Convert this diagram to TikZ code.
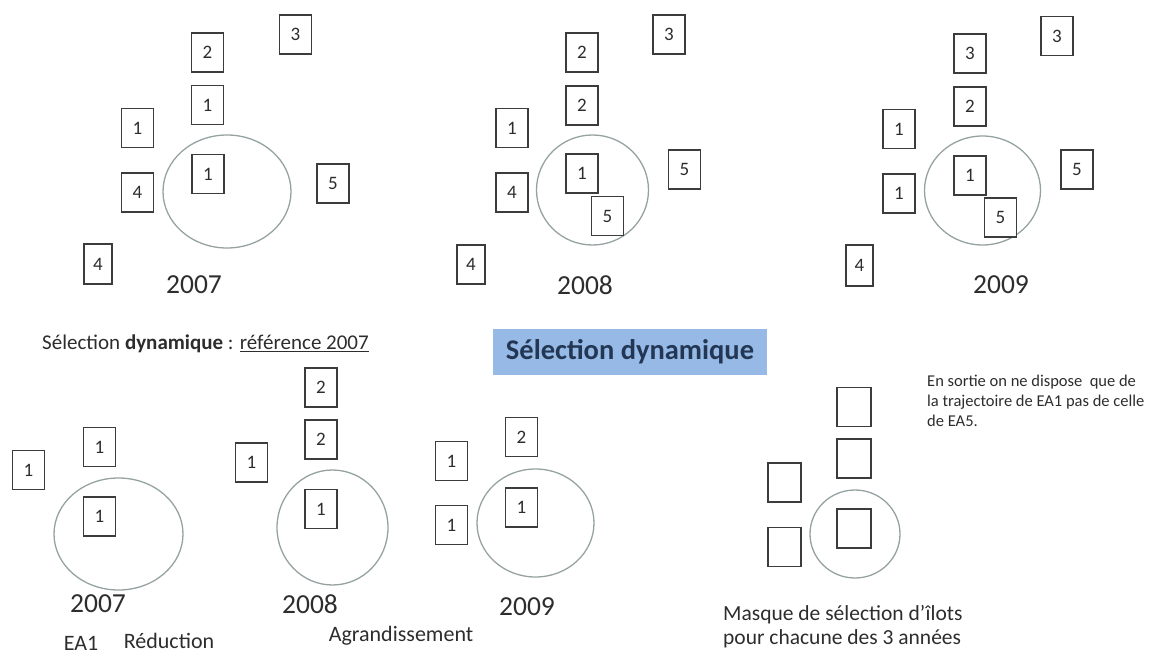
\documentclass[tikz,border=0pt]{standalone}
\usepackage{fontspec}
\setmainfont{Carlito}
\usetikzlibrary{shapes.geometric}
\definecolor{boxline}{RGB}{60,60,60}
\definecolor{ringline}{RGB}{150,162,162}
\definecolor{txt}{RGB}{45,45,45}
\definecolor{bluefill}{RGB}{150,186,229}
\definecolor{bluetxt}{RGB}{35,55,85}
\tikzset{
  isl/.style={draw=boxline, line width=1.1pt, fill=white, minimum width=32pt, minimum height=39pt, inner sep=0pt, font=\fontsize{19}{19}\selectfont, text=txt},
  ring/.style={ellipse, draw=ringline, line width=1.3pt, inner sep=0pt},
  year/.style={font=\fontsize{27.5}{27.5}\selectfont, text=txt, inner sep=0pt},
  lbl/.style={font=\fontsize{22}{22}\selectfont, text=txt, inner sep=0pt},
}
\begin{document}
\begin{tikzpicture}[x=1pt,y=-1pt]
\useasboundingbox (0,0) rectangle (1160,655);
% ---------- panel 2007 (top)
\node[ring, minimum width=128pt, minimum height=113pt] (ra) at (227,191.5) {};
\node[isl] (a3) at (295.5,34.5) {3};
\node[isl] (a2) at (207.5,52.5) {2};
\node[isl] (a1u) at (207.5,105) {1};
\node[isl] (a1l) at (137.5,128) {1};
\node[isl] (a1c) at (208,174) {1};
\node[isl] (a4) at (137.5,192.5) {4};
\node[isl] (a5) at (333,183.5) {5};
\node[isl, minimum width=28pt, minimum height=40pt] (a4l) at (98,264) {4};
\node[year] (ya) at (194,285) {2007};
% ---------- panel 2008 (top)
\node[ring, minimum width=112pt, minimum height=110pt] (rb) at (592.5,190) {};
\node[isl] (b3) at (669,34.5) {3};
\node[isl] (b2u) at (582,52.5) {2};
\node[isl] (b2) at (582,105.5) {2};
\node[isl] (b1l) at (512,128) {1};
\node[isl] (b1c) at (582,173.5) {1};
\node[isl] (b5c) at (607.5,216) {5};
\node[isl] (b4) at (512,192.5) {4};
\node[isl] (b5) at (684.5,169.5) {5};
\node[isl, minimum width=28pt] (b4l) at (471,264.5) {4};
\node[year] (yb) at (585,285) {2008};
% ---------- panel 2009 (top)
\node[ring, minimum width=116pt, minimum height=109pt] (rc) at (982.5,190.5) {};
\node[isl] (c3r) at (1057,36) {3};
\node[isl] (c3) at (970,53.5) {3};
\node[isl] (c2) at (970,106.5) {2};
\node[isl] (c1l) at (899,129) {1};
\node[isl] (c1d) at (899,193.5) {1};
\node[isl] (c1c) at (970,175.5) {1};
\node[isl] (c5c) at (1000.5,217.5) {5};
\node[isl] (c5) at (1077,169.5) {5};
\node[isl, minimum width=27pt, minimum height=41pt] (c4) at (859.5,265.5) {4};
\node[year] (yc) at (1001,285) {2009};
% ---------- headings
\node[font=\fontsize{21}{21}\selectfont, text=txt, inner sep=0pt, anchor=west] (title) at (42,344) {Sélection \textbf{dynamique} : \underline{référence 2007}};
\node[fill=bluefill, minimum width=274pt, minimum height=46pt, inner sep=0pt,
      font=\bfseries\fontsize{28.5}{28.5}\selectfont, text=bluetxt] (sel) at (630,352) {Sélection dynamique};
% ---------- bottom 2007
\node[ring, minimum width=129pt, minimum height=112pt] (rd) at (118.5,534) {};
\node[isl] (d1f) at (28.5,470) {1};
\node[isl] (d1u) at (99.5,447) {1};
\node[isl] (d1c) at (99.5,516.5) {1};
\node[year] (yd) at (98,604) {2007};
\node[lbl] (ea1) at (81,643) {EA1};
\node[lbl] (red) at (169,641) {Réduction};
% ---------- bottom 2008
\node[ring, minimum width=111pt, minimum height=115pt] (re) at (332.5,527.5) {};
\node[isl] (e2u) at (321,387.5) {2};
\node[isl] (e2) at (321,439.5) {2};
\node[isl] (e1l) at (251.5,462.5) {1};
\node[isl] (e1c) at (321,509) {1};
\node[year] (ye) at (310,604) {2008};
\node[lbl] (agr) at (401,636) {Agrandissement};
% ---------- bottom 2009
\node[ring, minimum width=117pt, minimum height=108pt] (rf) at (535.5,523) {};
\node[isl] (f2) at (521.5,437) {2};
\node[isl] (f1u) at (451.5,461) {1};
\node[isl] (f1d) at (451.5,525) {1};
\node[isl] (f1c) at (521.5,507.5) {1};
\node[year] (yf) at (527,607) {2009};
% ---------- mask
\node[ring, minimum width=90pt, minimum height=88pt] (rg) at (855,534) {};
\node[isl, minimum width=34pt] (g1) at (854,407) {};
\node[isl, minimum width=34pt] (g2) at (854,458.5) {};
\node[isl, minimum width=33pt] (gl1) at (784.5,482.5) {};
\node[isl, minimum width=33pt] (gl2) at (784.5,547) {};
\node[isl, minimum width=34pt] (gc) at (854,528.5) {};
\node[font=\fontsize{21.5}{24}\selectfont, text=txt, align=left, anchor=west, inner sep=0pt] (mask) at (723,627)
  {Masque de sélection d’îlots\\pour chacune des 3 années};
\node[font=\fontsize{16.5}{20}\selectfont, text=txt, align=left, anchor=north west, inner sep=0pt] (note) at (927,375)
  {En sortie on ne dispose~ que de\\la trajectoire de EA1 pas de celle\\de EA5.};
\end{tikzpicture}
\end{document}
